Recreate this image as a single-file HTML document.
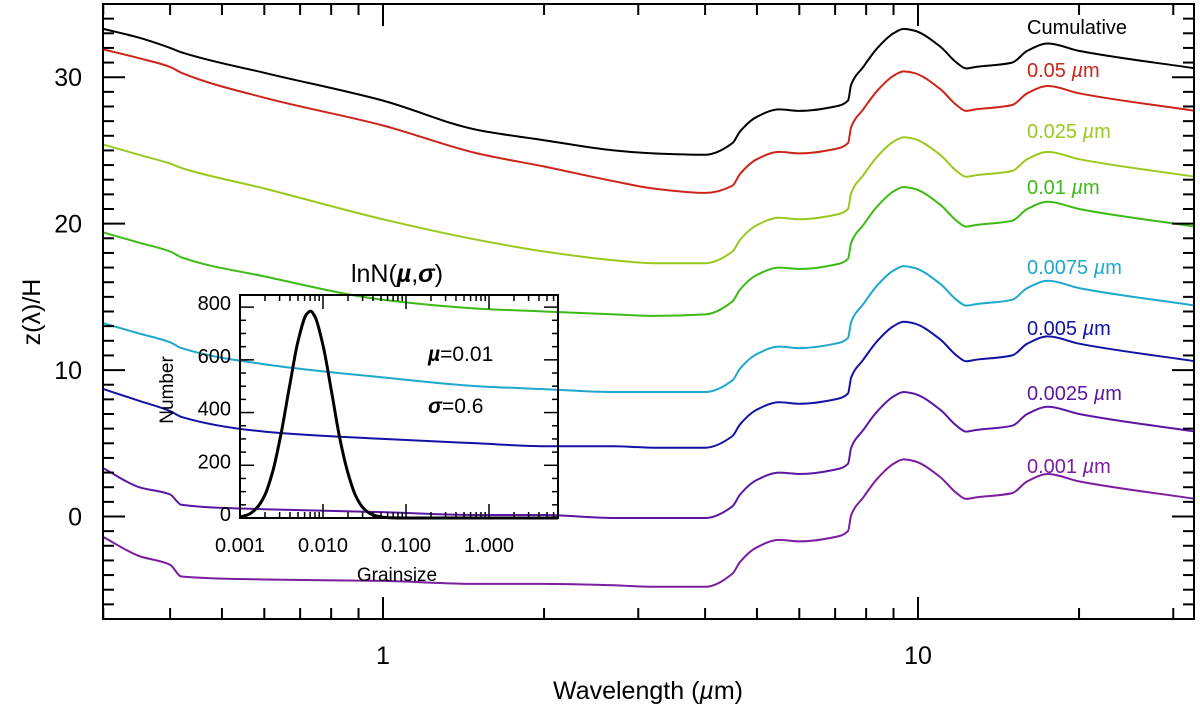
<!DOCTYPE html>
<html><head><meta charset="utf-8"><style>
html,body{margin:0;padding:0;background:#fff;}
svg{display:block;font-family:"Liberation Sans",sans-serif;}
</style></head><body>
<svg id="chart" width="1200" height="712" viewBox="0 0 1200 712" xmlns="http://www.w3.org/2000/svg"></svg>
<script>
// ---- main chart data ----
const wavelengths = [0.30,0.35,0.40,0.42,0.6,1.0,1.5,2.0,2.7,3.2,4.0,4.5,4.65,5.0,5.5,6.0,7.0,7.4,7.5,7.9,8.4,9.0,9.4,9.8,11.0,11.8,12.3,12.8,15.0,16.0,17.5,20.0,33.0];
const seriesNames = ["Cumulative","0.05","0.025","0.01","0.0075","0.005","0.0025","0.001"];
const seriesColors = ["#000000","#cc2418","#9ac81e","#3cba16","#1ea8cc","#1212a4","#5c16a4","#7c1c9e"];
const cumulative = [33.3,32.7,32.0,31.7,30.3,28.4,26.4,25.7,25.0,24.8,24.7,25.5,26.3,27.3,27.8,27.7,28.0,28.4,29.5,30.7,32.0,33.0,33.3,33.2,32.1,31.0,30.6,30.7,31.0,31.8,32.3,31.8,30.6];
const size005 = [31.9,31.3,30.7,30.3,28.6,26.7,24.8,23.9,22.9,22.4,22.1,22.6,23.4,24.4,24.9,24.8,25.1,25.5,26.6,27.8,29.1,30.1,30.4,30.3,29.2,28.1,27.7,27.8,28.1,28.9,29.4,28.9,27.7];
const size0025 = [25.4,24.7,24.1,23.8,22.4,20.3,18.9,18.1,17.5,17.3,17.3,18.1,18.9,19.9,20.4,20.3,20.6,21.0,22.1,23.3,24.6,25.6,25.9,25.8,24.7,23.6,23.2,23.3,23.6,24.4,24.9,24.4,23.2];
const size001 = [19.4,18.7,18.1,17.7,16.4,14.8,14.2,14.0,13.8,13.7,13.8,14.7,15.5,16.5,17.0,16.9,17.2,17.6,18.7,19.9,21.2,22.2,22.5,22.4,21.3,20.2,19.8,19.9,20.2,21.0,21.5,21.0,19.8];
const size00075 = [13.2,12.5,11.9,11.5,10.4,9.5,8.9,8.7,8.5,8.5,8.5,9.3,10.1,11.1,11.6,11.5,11.8,12.2,13.3,14.5,15.8,16.8,17.1,17.0,15.9,14.8,14.4,14.5,14.8,15.6,16.1,15.6,14.4];
const size0005 = [8.7,7.9,7.2,6.8,5.8,5.3,5.0,4.8,4.8,4.7,4.7,5.5,6.3,7.3,7.8,7.7,8.0,8.4,9.5,10.7,12.0,13.0,13.3,13.2,12.1,11.0,10.6,10.7,11.0,11.8,12.3,11.8,10.6];
const size00025 = [3.3,2.0,1.5,0.8,0.5,0.3,0.1,0.1,-0.1,-0.1,-0.1,0.7,1.5,2.5,3.0,2.9,3.2,3.6,4.7,5.9,7.2,8.2,8.5,8.4,7.3,6.2,5.8,5.9,6.2,7.0,7.5,7.0,5.8];
const size0001 = [-1.4,-2.7,-3.3,-4.1,-4.3,-4.4,-4.6,-4.6,-4.7,-4.8,-4.8,-3.9,-3.1,-2.1,-1.6,-1.7,-1.4,-1.0,0.1,1.3,2.6,3.6,3.9,3.8,2.7,1.6,1.2,1.3,1.6,2.4,2.9,2.4,1.2];
const yTickValues = [0,10,20,30];
const xTickValues = [1,10];
const labelY = [27,70,131,187,267,328,393,466];
// ---- inset data ----
const grainSizes = [0.001,0.00126,0.00158,0.002,0.00251,0.00316,0.00398,0.00501,0.00631,0.00707,0.00794,0.01,0.0126,0.0158,0.02,0.0251,0.0316,0.0398,0.0501,0.0631,0.1,1,6.8];
const grainCounts = [4,13,37,88,183,328,505,672,772,785,766,655,484,308,170,80,33,12,4,1,0,0,0];
const insetYTicks = [0,200,400,600,800];
const insetXTicks = ["0.001","0.010","0.100","1.000"];

const NS="http://www.w3.org/2000/svg";
const svg=document.getElementById('chart');
function mk(tag,attrs,parent){const e=document.createElementNS(NS,tag);for(const k in attrs)e.setAttribute(k,attrs[k]);(parent||svg).appendChild(e);return e;}

// monotone cubic path through pixel points
function smoothPath(px,py){
  const n=px.length, d=[], m=new Array(n);
  for(let i=0;i<n-1;i++)d.push((py[i+1]-py[i])/(px[i+1]-px[i]));
  m[0]=d[0];m[n-1]=d[n-2];
  for(let i=1;i<n-1;i++){ if(d[i-1]*d[i]<=0)m[i]=0; else {const h0=px[i]-px[i-1],h1=px[i+1]-px[i];const w1=2*h1+h0,w2=h1+2*h0;m[i]=(w1+w2)/(w1/d[i-1]+w2/d[i]);} }
  let s='M'+px[0].toFixed(1)+','+py[0].toFixed(1);
  for(let i=0;i<n-1;i++){const h=(px[i+1]-px[i])/3;
    s+=' C'+(px[i]+h).toFixed(1)+','+(py[i]+m[i]*h).toFixed(1)+' '+(px[i+1]-h).toFixed(1)+','+(py[i+1]-m[i+1]*h).toFixed(1)+' '+px[i+1].toFixed(1)+','+py[i+1].toFixed(1);}
  return s;
}

// main axes
const X0=103,X1=1194,Y0=4,Y1=619;
const xDec=535, x1px=383;
function xs(v){return x1px+xDec*Math.log10(v);}
const yMin=-7,yMax=35;
function ys(v){return Y1-(v-yMin)/(yMax-yMin)*(Y1-Y0);}

const series=[cumulative,size005,size0025,size001,size00075,size0005,size00025,size0001];
const clip=mk('clipPath',{id:'pc'});mk('rect',{x:X0,y:Y0,width:X1-X0,height:Y1-Y0},clip);
series.forEach((s,i)=>{
  const d=smoothPath(wavelengths.map(xs),s.map(ys));
  const p=mk('path',{d:d,fill:'none',stroke:seriesColors[i],'stroke-width':2,'stroke-linejoin':'round','clip-path':'url(#pc)'});
  
  
  const t=mk('text',{x:1027,y:labelY[i]+7,'font-size':20,fill:seriesColors[i]});
  
  
  if(i===0){t.textContent='Cumulative';}
  else{t.textContent=seriesNames[i]+' ';const ts=mk('tspan',{'font-style':'italic'},t);ts.textContent='µ';const ts2=mk('tspan',{},t);ts2.textContent='m';}
});

// frame
const fr=mk('rect',{x:X0,y:Y0,width:X1-X0,height:Y1-Y0,fill:'none',stroke:'#000','stroke-width':2});

for(let v=-7;v<=35;v++){
  const major=v%10===0, L=major?22:11, y=ys(v);
  mk('line',{x1:X0,x2:X0+L,y1:y,y2:y,stroke:'#000','stroke-width':2});
  mk('line',{x1:X1-L,x2:X1,y1:y,y2:y,stroke:'#000','stroke-width':2});
}
yTickValues.forEach(v=>{const t=mk('text',{x:82,y:ys(v)+9,'font-size':25,'text-anchor':'end'});
  t.textContent=v;});
[0.3,0.4,0.5,0.6,0.7,0.8,0.9,1,2,3,4,5,6,7,8,9,10,20,30].forEach(v=>{
  const major=(v===1||v===10), L=major?22:11, x=xs(v);
  if(x<X0||x>X1)return;
  mk('line',{x1:x,x2:x,y1:Y1,y2:Y1-L,stroke:'#000','stroke-width':2});
  mk('line',{x1:x,x2:x,y1:Y0,y2:Y0+L,stroke:'#000','stroke-width':2});
});
xTickValues.forEach(v=>{const t=mk('text',{x:xs(v),y:664,'font-size':25,'text-anchor':'middle'});
  t.textContent=v;});
const xt=mk('text',{x:648,y:699,'font-size':25,'text-anchor':'middle'});

xt.appendChild(document.createTextNode('Wavelength ('));
{const a=mk('tspan',{'font-style':'italic'},xt);a.textContent='µ';}
xt.appendChild(document.createTextNode('m)'));
const yt=mk('text',{x:0,y:0,'font-size':25,'text-anchor':'middle',transform:'translate(40,312) rotate(-90)'});

yt.textContent='z(λ)/H';

// inset
const IX0=240,IX1=558,IY0=295,IY1=518;
function ixs(v){return IX0+83*(Math.log10(v)+3);}
function iys(v){return IY1-v/846*(IY1-IY0);}
const ic=mk('path',{d:smoothPath(grainSizes.map(ixs),grainCounts.map(iys)),fill:'none',stroke:'#000','stroke-width':3,'stroke-linejoin':'round'});

const ifr=mk('rect',{x:IX0,y:IY0,width:IX1-IX0,height:IY1-IY0,fill:'none',stroke:'#000','stroke-width':2});

for(let v=0;v<=846;v+=50){const major=v%200===0,L=major?14:6,y=iys(v);
  mk('line',{x1:IX0,x2:IX0+L,y1:y,y2:y,stroke:'#000','stroke-width':1.5});
  mk('line',{x1:IX1-L,x2:IX1,y1:y,y2:y,stroke:'#000','stroke-width':1.5});}
for(let e=-3;e<=0;e++){for(let m=1;m<=9;m++){const v=m*Math.pow(10,e),x=ixs(v);if(x>IX1)break;
  const L=m===1?14:6;
  mk('line',{x1:x,x2:x,y1:IY1,y2:IY1-L,stroke:'#000','stroke-width':1.5});
  mk('line',{x1:x,x2:x,y1:IY0,y2:IY0+L,stroke:'#000','stroke-width':1.5});}}
insetYTicks.forEach(v=>{const t=mk('text',{x:231,y:iys(v)+3,'font-size':20,'text-anchor':'end'});
  t.textContent=v;});
insetXTicks.forEach(s=>{const t=mk('text',{x:ixs(parseFloat(s)),y:552,'font-size':20,'text-anchor':'middle'});
  t.textContent=s;});
const gx=mk('text',{x:397,y:581,'font-size':19,'text-anchor':'middle'});
gx.textContent='Grainsize';
const gy=mk('text',{x:0,y:0,'font-size':19,'text-anchor':'middle',transform:'translate(173,390) rotate(-90)'});
gy.textContent='Number';
const it=mk('text',{x:397,y:282,'font-size':25,'text-anchor':'middle'});

it.appendChild(document.createTextNode('lnN('));
{const a=mk('tspan',{'font-style':'italic','font-weight':'bold'},it);a.textContent='µ';}
it.appendChild(document.createTextNode(','));
{const a=mk('tspan',{'font-style':'italic','font-weight':'bold'},it);a.textContent='σ';}
it.appendChild(document.createTextNode(')'));
const mu=mk('text',{x:428,y:361,'font-size':21});

{const a=mk('tspan',{'font-style':'italic','font-weight':'bold'},mu);a.textContent='µ';}
mu.appendChild(document.createTextNode('=0.01'));
const sg=mk('text',{x:428,y:413,'font-size':21});

{const a=mk('tspan',{'font-style':'italic','font-weight':'bold'},sg);a.textContent='σ';}
sg.appendChild(document.createTextNode('=0.6'));
</script>
</body></html>
